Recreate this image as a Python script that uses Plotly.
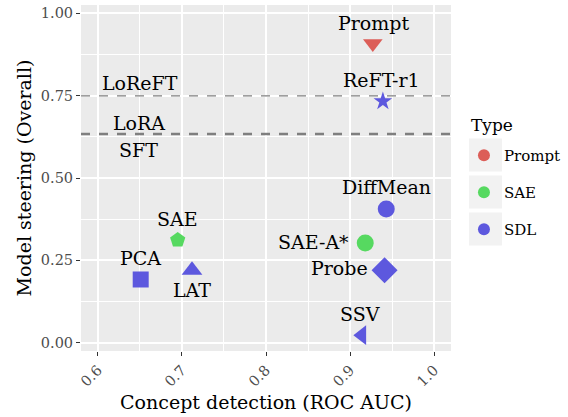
import plotly.graph_objects as go

# ---- data ----
methods = ["Prompt", "ReFT-r1", "DiffMean", "SAE-A*", "Probe", "SSV", "SAE", "PCA", "LAT"]
types = ["Prompt", "SDL", "SDL", "SAE", "SDL", "SDL", "SAE", "SDL", "SDL"]
concept_detection = [0.927, 0.939, 0.943, 0.918, 0.941, 0.914, 0.695, 0.651, 0.712]
model_steering = [0.908, 0.733, 0.406, 0.303, 0.220, 0.023, 0.312, 0.192, 0.220]
symbols = ["triangle-down", "star", "circle", "circle", "diamond", "triangle-left",
           "pentagon", "square", "triangle-up"]

baseline_names = ["LoReFT", "LoRA", "SFT"]
baseline_steering = [0.749, 0.632, 0.635]
baseline_label_x = [0.650, 0.649, 0.648]

x_ticks = [0.6, 0.7, 0.8, 0.9, 1.0]
x_tick_labels = ["0.6", "0.7", "0.8", "0.9", "1.0"]
y_ticks = [0.0, 0.25, 0.5, 0.75, 1.0]
y_tick_labels = ["0.00", "0.25", "0.50", "0.75", "1.00"]

type_order = ["Prompt", "SAE", "SDL"]
type_colors = {"Prompt": "#DC5E58", "SAE": "#56D960", "SDL": "#5D58DE"}

X_RANGE = [0.58, 1.02]
Y_RANGE = [-0.025, 1.025]

FONT = "DejaVu Serif"
LABEL_SIZE = 19

# label placement (pixel offsets) per method
label_style = {
    "Prompt": dict(xanchor="center", yanchor="middle", xshift=1, yshift=21),
    "ReFT-r1": dict(xanchor="center", yanchor="middle", xshift=-1, yshift=21),
    "DiffMean": dict(xanchor="center", yanchor="middle", xshift=0, yshift=22),
    "SAE-A*": dict(xanchor="right", yanchor="middle", xshift=-14, yshift=1),
    "Probe": dict(xanchor="right", yanchor="middle", xshift=-15, yshift=2),
    "SSV": dict(xanchor="center", yanchor="middle", xshift=-2, yshift=21),
    "SAE": dict(xanchor="center", yanchor="middle", xshift=0, yshift=21),
    "PCA": dict(xanchor="center", yanchor="middle", xshift=0, yshift=21),
    "LAT": dict(xanchor="center", yanchor="middle", xshift=0, yshift=-20),
}
marker_size = {"triangle-down": 17, "star": 14, "circle": 17, "diamond": 20,
               "triangle-left": 17, "pentagon": 16, "square": 16, "triangle-up": 18}
baseline_label_shift = [13, 12, -16]

fig = go.Figure()

# baselines (drawn first so points sit on top)
for name, yv in zip(baseline_names, baseline_steering):
    fig.add_trace(go.Scatter(
        x=X_RANGE, y=[yv, yv], mode="lines", showlegend=False, hoverinfo="skip",
        line=dict(color="#7F7F7F", width=1.3, dash="dash")))

for name, yv, lx, sh in zip(baseline_names, baseline_steering, baseline_label_x, baseline_label_shift):
    fig.add_annotation(x=lx, y=yv, text=name, showarrow=False, yshift=sh,
                       font=dict(family=FONT, size=LABEL_SIZE, color="black"))

# points
for m, t, xv, yv, s in zip(methods, types, concept_detection, model_steering, symbols):
    fig.add_trace(go.Scatter(
        x=[xv], y=[yv], mode="markers", showlegend=False,
        marker=dict(symbol=s, size=marker_size[s], color=type_colors[t], line=dict(width=0)),
        hoverinfo="skip"))
    fig.add_annotation(x=xv, y=yv, text=m, showarrow=False,
                       font=dict(family=FONT, size=LABEL_SIZE, color="black"), **label_style[m])

# legend entries
for t in type_order:
    fig.add_trace(go.Scatter(
        x=[None], y=[None], mode="markers", name=t, legendgroup=t,
        marker=dict(symbol="circle", size=16, color=type_colors[t])))

# legend title and key backgrounds
fig.add_annotation(xref="paper", yref="paper", x=1.0486, y=0.653, text="Type",
                   showarrow=False, xanchor="left", yanchor="middle",
                   font=dict(family=FONT, size=17, color="black"))
for y0, y1 in [(0.519, 0.614), (0.412, 0.507), (0.305, 0.400)]:
    fig.add_shape(type="rect", xref="paper", yref="paper", x0=1.0486, x1=1.1378,
                  y0=y0, y1=y1, fillcolor="#F2F2F2", line=dict(width=0), layer="below")

fig.update_layout(
    width=568, height=417,
    margin=dict(l=81, r=117, t=5, b=66, autoexpand=False),
    paper_bgcolor="white", plot_bgcolor="#EBEBEB",
    font=dict(family=FONT, color="black"),
    legend=dict(
        font=dict(family=FONT, size=15),
        x=1.035, y=0.613, xanchor="left", yanchor="top",
        tracegroupgap=14.5, bgcolor="rgba(0,0,0,0)", itemsizing="constant"),
    xaxis=dict(
        range=X_RANGE, tickvals=x_ticks, ticktext=x_tick_labels,
        tickangle=-45, tickfont=dict(family=FONT, size=14.5, color="#4D4D4D"),
        ticks="outside", ticklen=4, tickcolor="#333333", tickwidth=1,
        showgrid=True, gridcolor="white", gridwidth=1.5, zeroline=False,
        minor=dict(showgrid=True, gridcolor="white", gridwidth=0.7, tick0=0.55, dtick=0.1),
        title=dict(text="Concept detection (ROC AUC)", font=dict(family=FONT, size=19), standoff=6),
        showline=False),
    yaxis=dict(
        range=Y_RANGE, tickvals=y_ticks, ticktext=y_tick_labels,
        tickfont=dict(family=FONT, size=14.5, color="#4D4D4D"),
        ticks="outside", ticklen=4, tickcolor="#333333", tickwidth=1,
        showgrid=True, gridcolor="white", gridwidth=1.5, zeroline=False,
        minor=dict(showgrid=True, gridcolor="white", gridwidth=0.7, tick0=0.125, dtick=0.25),
        title=dict(text="Model steering (Overall)", font=dict(family=FONT, size=19), standoff=4),
        showline=False),
)

fig.write_html("out.html")
